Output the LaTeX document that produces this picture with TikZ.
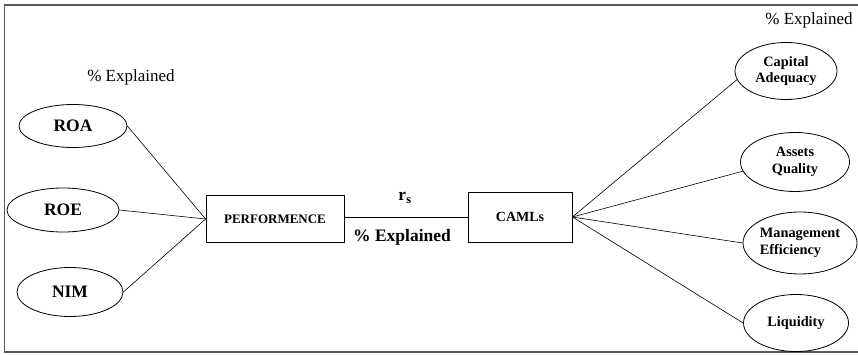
\documentclass[tikz,border=0pt]{standalone}
\usepackage{fontspec}
\setmainfont{Liberation Serif}
\usetikzlibrary{shapes.geometric}
\tikzset{
  ratio/.style={draw, ellipse, line width=.8pt, inner sep=0pt, align=center,
    font=\bfseries\fontsize{17.5}{19}\selectfont},
  camlratio/.style={ratio, font=\bfseries\fontsize{14.3}{16.5}\selectfont},
  mainbox/.style={draw, rectangle, line width=.8pt, inner sep=0pt,
    font=\bfseries\fontsize{13}{15}\selectfont},
  link/.style={line width=.6pt},
  note/.style={font=\fontsize{17}{19}\selectfont}
}

\begin{document}
\begin{tikzpicture}[x=1pt,y=-1pt]
  \useasboundingbox (0,0) rectangle (858,355);
  \draw[black!65, line width=1.5pt] (858,5) -- (4.5,5) -- (4.5,352) -- (858,352);

  % performance side
  \node[note] (expl1) at (131,77) {\% Explained};
  \node[ratio, minimum width=108, minimum height=43] (roa) at (73,126) {ROA};
  \node[ratio, minimum width=112, minimum height=44] (roe) at (63,210) {ROE};
  \node[ratio, minimum width=106, minimum height=49] (nim) at (70,292) {NIM};
  \node[mainbox, minimum width=138, minimum height=47] (perf) at (275,219) {PERFORMENCE};

  % CAMLs side
  \node[mainbox, minimum width=104, minimum height=50, font=\bfseries\fontsize{14}{16}\selectfont] (caml) at (520,217) {CAMLs};
  \node[note] (expl2) at (809,20) {\% Explained};
  \node[camlratio, minimum width=102, minimum height=57] (cap) at (786,71) {Capital\\Adequacy};
  \node[camlratio, minimum width=109, minimum height=59] (asset) at (795,162) {Assets\\Quality};
  \node[camlratio, minimum width=114, minimum height=62, align=left] (mgmt) at (800,243) {Management\\Efficiency};
  \node[camlratio, minimum width=105, minimum height=57] (liq) at (796,323) {Liquidity};

  % middle labels
  \node[font=\bfseries\fontsize{17.5}{19}\selectfont] (rs) at (405,198) {r\textsubscript{s}};
  \node[font=\bfseries\fontsize{17.5}{19}\selectfont] (expl3) at (402,237) {\% Explained};

  \draw[link] (roa.east) -- (perf.west);
  \draw[link] (roe.east) -- (perf.west);
  \draw[link] (nim.east) -- (perf.west);
  \draw[link] (perf.east |- caml) -- (caml.west);
  \draw[link] (caml.east) -- (cap.190);
  \draw[link] (caml.east) -- (asset.190);
  \draw[link] (caml.east) -- (mgmt.west);
  \draw[link] (caml.east) -- (liq.west);
\end{tikzpicture}
\end{document}
